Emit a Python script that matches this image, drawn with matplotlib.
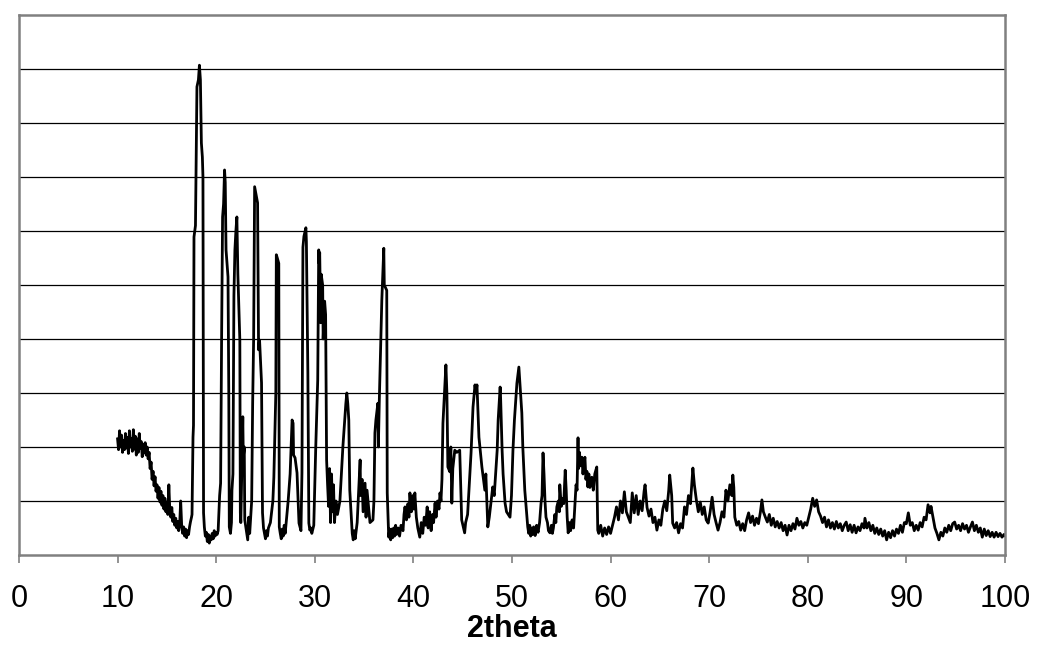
import matplotlib
matplotlib.use('Agg')
import matplotlib.pyplot as plt

# 2theta positions (deg) and intensity (counts)
two_theta = [
    10.0, 10.1, 10.2, 10.3, 10.4, 10.5, 10.6, 10.7, 10.8, 10.9,
    11.0, 11.1, 11.2, 11.3, 11.4, 11.5, 11.6, 11.7, 11.8, 11.9,
    12.0, 12.1, 12.2, 12.3, 12.4, 12.5, 12.6, 12.7, 12.8, 12.9,
    13.0, 13.1, 13.2, 13.3, 13.4, 13.5, 13.6, 13.7, 13.8, 13.9,
    14.0, 14.1, 14.2, 14.3, 14.4, 14.5, 14.6, 14.7, 14.8, 14.9,
    15.0, 15.1, 15.2, 15.3, 15.4, 15.5, 15.6, 15.7, 15.8, 15.9,
    16.0, 16.1, 16.2, 16.3, 16.4, 16.5, 16.6, 16.7, 16.8, 16.9,
    17.0, 17.1, 17.2, 17.3, 17.4, 17.5,
    17.55, 17.65, 17.7, 17.75, 17.9, 18.05, 18.2, 18.3, 18.4, 18.5, 18.6, 18.66, 18.72, 18.8, 18.9,
    19.0, 19.1, 19.2, 19.3, 19.4, 19.5, 19.6, 19.7, 19.8, 19.9, 20.0, 20.1,
    20.2, 20.35, 20.45, 20.55, 20.65, 20.75, 20.85, 20.92, 21.0, 21.2, 21.28, 21.33, 21.45, 21.55,
    21.6, 21.7, 21.8, 21.9, 22.0, 22.1, 22.2, 22.4, 22.45, 22.5,
    22.7, 22.75, 22.85, 22.9, 23.2, 23.3, 23.4,
    23.6, 23.7, 23.8, 23.9, 24.0, 24.2, 24.3, 24.4, 24.6, 24.7, 24.8, 24.9, 25.0, 25.1, 25.2, 25.3,
    25.5, 25.75, 25.85, 26.05, 26.1, 26.2, 26.35, 26.4, 26.5, 26.6, 26.7, 26.8, 26.9, 27.0, 27.1,
    27.3, 27.5, 27.7, 27.8, 27.85, 28.0, 28.2, 28.4, 28.6,
    28.7, 28.8, 28.9, 29.1, 29.15, 29.3, 29.4, 29.5, 29.6, 29.7, 29.9,
    30.0, 30.1, 30.3, 30.4, 30.45, 30.5, 30.6, 30.65, 30.8, 30.85, 31.0, 31.1, 31.15, 31.2,
    31.3, 31.4, 31.5, 31.6, 31.7, 31.8, 31.9, 32.0, 32.15, 32.3,
    32.55, 32.7, 32.85, 33.15, 33.25, 33.35, 33.45, 33.55, 33.8, 33.9, 34.0, 34.1, 34.3,
    34.6, 34.65, 34.8, 34.9, 35.1, 35.2, 35.3, 35.6, 35.9,
    36.0, 36.1, 36.2, 36.4, 36.45, 36.55, 36.8, 37.0, 37.05, 37.3, 37.35,
    37.5, 37.6, 37.7, 37.8, 37.9, 38.0, 38.1, 38.2, 38.3, 38.45, 38.6, 38.75, 38.95, 39.05,
    39.15, 39.3, 39.45, 39.55, 39.65, 39.8, 39.95, 40.05, 40.15, 40.3, 40.45, 40.65, 40.8, 40.95,
    41.1, 41.25, 41.4, 41.5, 41.65, 41.8, 41.95, 42.05, 42.2, 42.3, 42.45, 42.6, 42.7, 42.8, 42.9,
    43.0, 43.1, 43.3, 43.4, 43.5, 43.7, 43.8, 43.9, 44.0, 44.2, 44.4, 44.7, 44.9, 45.2, 45.3, 45.5,
    45.85, 46.05, 46.25, 46.35, 46.45, 46.65, 46.95, 47.25, 47.35, 47.55, 47.7, 48.05, 48.2,
    48.5, 48.6, 48.8, 48.85, 49.0, 49.1, 49.3, 49.45, 49.8, 49.95,
    50.1, 50.25, 50.5, 50.7, 50.8, 51.0, 51.1, 51.3,
    51.6, 51.7, 51.8, 51.9, 52.0, 52.1, 52.2, 52.35, 52.5, 52.65, 52.8, 52.95, 53.05, 53.15,
    53.25, 53.35, 53.45, 53.6, 53.7, 53.85, 54.0, 54.1, 54.2, 54.35, 54.45, 54.55, 54.7, 54.8,
    54.85, 55.0, 55.1, 55.25, 55.4, 55.5, 55.6, 55.7, 55.85, 55.95, 56.1, 56.25, 56.4, 56.5,
    56.6, 56.7, 56.75, 56.85, 56.95, 57.1, 57.2, 57.3, 57.4, 57.5, 57.6, 57.7, 57.8, 57.9,
    58.0, 58.1, 58.25, 58.4, 58.6, 58.7,
    58.8, 59.0, 59.2, 59.4, 59.6, 59.8, 60.0, 60.2, 60.4, 60.6, 60.8, 61.0, 61.2, 61.4,
    61.6, 61.8, 62.0, 62.2, 62.4, 62.6, 62.8, 63.0, 63.2, 63.4, 63.5, 63.7, 63.9, 64.1,
    64.3, 64.5, 64.7, 64.9, 65.1, 65.3, 65.5, 65.7, 65.9, 66.0, 66.2, 66.3, 66.5, 66.7,
    66.9, 67.1, 67.3, 67.5, 67.7, 67.9, 68.1, 68.35, 68.5, 68.7, 68.9, 69.1, 69.3, 69.5,
    69.7, 69.9, 70.1, 70.3, 70.5, 70.7, 70.9, 71.1, 71.3, 71.5, 71.7, 71.9, 72.1, 72.3,
    72.4, 72.5, 72.6, 72.8, 73.0, 73.2, 73.4, 73.6, 73.8, 74.0, 74.2, 74.4, 74.6, 74.8,
    75.0, 75.2, 75.35, 75.5, 75.7, 75.9, 76.1, 76.3, 76.5, 76.7, 76.9, 77.1, 77.3, 77.5,
    77.7, 77.9, 78.1, 78.3, 78.5, 78.7, 78.9, 79.1, 79.3, 79.5, 79.7, 79.9, 80.1, 80.3,
    80.5, 80.7, 80.9, 81.1, 81.3, 81.5, 81.7, 81.9, 82.1, 82.3, 82.5, 82.7, 82.9, 83.1,
    83.3, 83.5, 83.7, 83.9, 84.1, 84.3, 84.5, 84.7, 84.9, 85.1, 85.3, 85.5, 85.7, 85.8,
    86.0, 86.2, 86.4, 86.6, 86.8, 87.0, 87.2, 87.4, 87.6, 87.8, 88.0, 88.2, 88.4, 88.6,
    88.8, 89.0, 89.2, 89.4, 89.6, 89.8, 90.0, 90.2, 90.4, 90.6, 90.8, 91.0, 91.2, 91.4,
    91.6, 91.8, 92.0, 92.2, 92.4, 92.5, 92.7, 92.9, 93.1, 93.3, 93.5, 93.7, 93.9, 94.1,
    94.3, 94.5, 94.7, 94.9, 95.1, 95.3, 95.5, 95.7, 95.9, 96.1, 96.3, 96.5, 96.7, 96.9,
    97.1, 97.3, 97.5, 97.7, 97.9, 98.1, 98.3, 98.5, 98.7, 98.9, 99.1, 99.3, 99.5, 99.7,
    99.9, 100.0,
]

intensity = [
    215, 195, 230, 200, 222, 190, 212, 195, 225, 198,
    218, 188, 230, 200, 215, 192, 232, 196, 220, 185,
    215, 190, 225, 198, 210, 182, 205, 190, 208, 185,
    200, 178, 190, 160, 172, 140, 155, 128, 145, 118,
    130, 105, 125, 98, 118, 92, 110, 85, 105, 80,
    98, 75, 130, 82, 70, 88, 62, 75, 55, 68,
    50, 62, 45, 58, 100, 55, 40, 52, 35, 48,
    32, 45, 38, 52, 62, 70,
    75, 218, 240, 589, 610, 867, 880, 907, 880, 763, 737, 700, 78, 52, 35,
    42, 25, 38, 22, 35, 28, 40, 30, 45, 35, 42, 38,
    45, 110, 133, 400, 626, 650, 713, 690, 565, 515, 300, 52, 40, 60,
    120, 150, 480, 565, 600, 626, 520, 398, 78, 60,
    256, 180, 200, 65, 28, 70, 40,
    100, 281, 400, 682, 672, 652, 380, 398, 319, 78, 50, 40, 30, 45, 35, 50,
    60, 100, 144, 300, 556, 550, 540, 52, 40, 30, 48, 35, 55, 40, 60,
    100, 150, 250, 244, 185, 180, 152, 59, 45,
    152, 570, 590, 606, 580, 337, 59, 46, 50, 40, 55,
    126, 200, 324, 565, 540, 560, 430, 520, 500, 400, 470, 445, 300, 176,
    130, 90, 160, 60, 150, 80, 130, 60, 100, 75,
    100, 150, 200, 280, 300, 280, 250, 120, 40, 28, 45, 30, 60,
    176, 110, 140, 80, 133, 70, 120, 60, 65,
    100, 226, 250, 281, 200, 290, 472, 568, 500, 490, 115,
    33, 48, 28, 48, 32, 50, 35, 55, 38, 50, 35, 55, 45, 75,
    89, 65, 95, 70, 115, 80, 110, 85, 115, 70, 50, 33, 60, 40,
    70, 55, 89, 50, 80, 45, 75, 60, 96, 70, 100, 85, 115, 100, 140,
    244, 280, 352, 300, 163, 154, 200, 96, 160, 194, 190, 194, 65, 41, 60, 75,
    189, 274, 315, 300, 315, 218, 163, 120, 150, 52, 70, 126, 110,
    194, 250, 311, 290, 194, 150, 96, 80, 70, 110,
    194, 250, 318, 348, 320, 263, 200, 120,
    52, 40, 55, 35, 50, 38, 52, 36, 55, 42, 60, 96, 110, 189,
    150, 100, 70, 60, 45, 41, 55, 40, 50, 75, 60, 89, 100, 80,
    130, 90, 105, 95, 157, 120, 70, 41, 60, 45, 65, 50, 100, 130,
    120, 217, 160, 190, 165, 181, 150, 170, 181, 140, 155, 126, 150, 125,
    140, 144, 120, 150, 163, 46,
    40, 55, 35, 50, 38, 52, 40, 55, 70, 89, 65, 100, 78, 117,
    80, 70, 60, 115, 78, 110, 75, 100, 82, 118, 130, 88, 72, 85,
    60, 70, 46, 65, 55, 85, 100, 82, 120, 148, 110, 59, 50, 60,
    41, 58, 50, 89, 75, 110, 95, 161, 130, 102, 80, 98, 75, 89,
    65, 59, 80, 107, 75, 60, 46, 60, 80, 70, 120, 100, 130, 110,
    148, 125, 70, 55, 62, 46, 58, 45, 65, 78, 60, 72, 55, 68,
    58, 80, 102, 80, 70, 61, 75, 55, 68, 52, 62, 50, 60, 45,
    55, 37, 55, 45, 58, 48, 68, 55, 62, 50, 60, 55, 70, 85,
    105, 90, 102, 80, 72, 60, 70, 52, 65, 50, 60, 48, 62, 50,
    58, 45, 55, 61, 45, 56, 42, 55, 41, 52, 45, 58, 50, 68,
    50, 60, 45, 55, 40, 50, 38, 48, 35, 45, 28, 42, 32, 45,
    35, 48, 40, 55, 42, 60, 58, 78, 55, 60, 45, 55, 46, 60,
    52, 70, 65, 93, 78, 90, 70, 50, 40, 28, 42, 35, 50, 42,
    55, 45, 58, 61, 48, 55, 45, 58, 48, 55, 42, 52, 61, 45,
    55, 42, 50, 33, 48, 36, 45, 34, 42, 33, 42, 34, 40, 33,
    38, 36,
]

x_ticks = [0, 10, 20, 30, 40, 50, 60, 70, 80, 90, 100]

plt.rcParams['font.family'] = ['Liberation Sans', 'DejaVu Sans']

fig = plt.figure(figsize=(10.37, 6.52), dpi=100)
ax = fig.add_axes([0.0183, 0.1488, 0.9508, 0.8282])

ax.plot(two_theta, intensity, color='black', linewidth=2.0)

ax.set_xlim(0, 100)
ax.set_ylim(0, 1000)
ax.set_xticks(x_ticks)
ax.set_xticklabels([str(t) for t in x_ticks], fontsize=22)
ax.set_yticks(range(100, 1000, 100))
ax.tick_params(axis='y', left=False, labelleft=False)
ax.tick_params(axis='x', direction='out', length=6, width=1.2, color='#808080', pad=15)
ax.yaxis.grid(True, color='black', linewidth=0.9)
ax.set_axisbelow(True)

for side in ['left', 'right', 'top', 'bottom']:
    ax.spines[side].set_color('#808080')
    ax.spines[side].set_linewidth(1.8)

ax.set_xlabel('2theta', fontsize=22, fontweight='bold', labelpad=0)

fig.savefig('out.png', dpi=100)
